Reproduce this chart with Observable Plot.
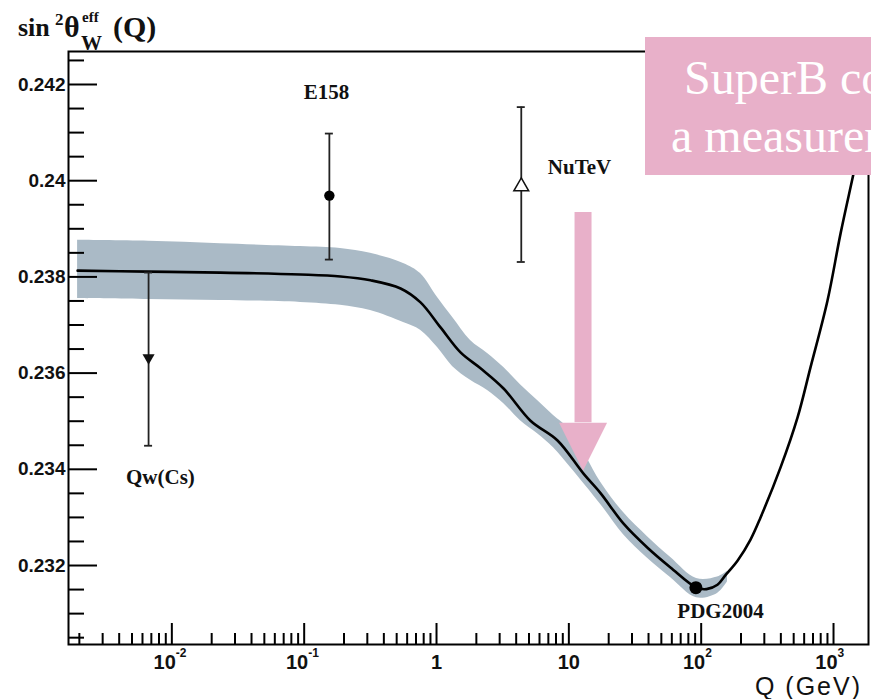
<!DOCTYPE html>
<html><head><meta charset="utf-8">
<script src="https://cdn.jsdelivr.net/npm/d3@7"></script>
<script src="https://cdn.jsdelivr.net/npm/@observablehq/plot@0.6"></script>
<style>
html,body{margin:0;padding:0;background:#fff;overflow:hidden;}
#wrap{position:relative;width:871px;height:699px;overflow:hidden;}
#chart{position:absolute;left:0;top:0;}
#overlay{position:absolute;left:0;top:0;pointer-events:none;}
</style></head><body>
<div id="wrap"><div id="chart"></div>
<svg id="overlay" width="871" height="699" xmlns="http://www.w3.org/2000/svg">
  <g font-family="Liberation Serif, Times New Roman, serif" font-weight="bold" fill="#111">
    <text x="18" y="36" font-size="26">sin</text>
    <text x="55" y="25" font-size="17">2</text>
    <text x="64" y="37" font-size="30">θ</text>
    <text x="82" y="22" font-size="15">eff</text>
    <text x="81" y="50" font-size="21">W</text>
    <text x="113" y="37" font-size="30">(Q)</text>
  </g>
  <rect x="645" y="37" width="240" height="138" fill="#e8b0c9"></rect>
  <g font-family="Liberation Serif, Times New Roman, serif" fill="#ffffff" font-size="48">
    <text x="684" y="94">SuperB co</text>
    <text x="671" y="152">a measurem</text>
  </g>
  <text x="862" y="695" text-anchor="end" font-family="Liberation Sans, Arial, sans-serif" font-size="25" letter-spacing="2" fill="#111">Q (GeV)</text>
</svg>
</div>
<script>
// ---- data ----
const curveQ = [0.00194, 0.00667, 0.0233, 0.0938, 0.188, 0.317, 0.535, 0.757, 1.072, 1.518, 2.15, 3.21, 5.13, 8.21, 12.9, 17.4, 25.9, 39.3, 58.6, 92.2, 109.7, 132.8, 152.7, 188.2, 236, 281, 398, 535, 670, 901, 1130, 1417, 1840];
const curveS = [0.23813, 0.23811, 0.23809, 0.23805, 0.23801, 0.23793, 0.23776, 0.23747, 0.23695, 0.23643, 0.23610, 0.23568, 0.23501, 0.23460, 0.23391, 0.23350, 0.23287, 0.23237, 0.23196, 0.23154, 0.23151, 0.23160, 0.23180, 0.23210, 0.23254, 0.23300, 0.23404, 0.23508, 0.23612, 0.23751, 0.23890, 0.24015, 0.24160];

const bandQ  = [0.00194, 0.00667, 0.0233, 0.0938, 0.188, 0.317, 0.563, 0.757, 1.018, 1.321, 1.807, 2.43, 3.21, 4.31, 5.80, 7.66, 10.3, 17.4, 25.9, 39.3, 58.6, 92.2, 132.8, 158];
const bandLo = [0.23755, 0.23753, 0.23751, 0.23747, 0.23741, 0.23730, 0.23705, 0.23689, 0.23653, 0.23614, 0.23585, 0.23564, 0.23537, 0.23501, 0.23474, 0.23445, 0.23404, 0.23327, 0.23264, 0.23215, 0.23175, 0.23133, 0.23142, 0.23166];
const bandHi = [0.23876, 0.23874, 0.23869, 0.23863, 0.23859, 0.23849, 0.23828, 0.23807, 0.23757, 0.23716, 0.23668, 0.23641, 0.23612, 0.23576, 0.23543, 0.23512, 0.23481, 0.23373, 0.23310, 0.23260, 0.23217, 0.23173, 0.23176, 0.23188];

const expNames = ["Qw(Cs)", "E158", "NuTeV"];
const expQ  = [0.00667, 0.155, 4.37];
const expS  = [0.23632, 0.23969, 0.23988];
const expLo = [0.23449, 0.23836, 0.23831];
const expHi = [0.23809, 0.24098, 0.24153];

const pdgName = "PDG2004";
const pdgQ = 91.19;
const pdgS = 0.23154;

const labelText = ["Qw(Cs)", "E158", "NuTeV", "PDG2004"];
const labelQ = [0.0082, 0.1475, 12.04, 140];
const labelS = [0.23383, 0.24183, 0.24027, 0.23104];

const arrowQ = 12.8;
const arrowTopS = 0.23934;
const arrowBaseS = 0.23497;

const yMajor = [0.232, 0.234, 0.236, 0.238, 0.240, 0.242];
const yLabels = ["0.232", "0.234", "0.236", "0.238", "0.24", "0.242"];
const yMinor = [0.2305, 0.231, 0.2315, 0.2325, 0.233, 0.2335, 0.2345, 0.235, 0.2355, 0.2365, 0.237, 0.2375, 0.2385, 0.239, 0.2395, 0.2405, 0.241, 0.2415, 0.2425];
const xMajor = [0.01, 0.1, 1, 10, 100, 1000];
const xBase = ["10", "10", "1", "10", "10", "10"];
const xExp = ["-2", "-1", "", "", "2", "3"];
const xMinorMult = [2, 3, 4, 5, 6, 7, 8, 9];
const xDecades = [0.001, 0.01, 0.1, 1, 10, 100];

const xDomain = [0.001656, 1838];
const yDomain = [0.230358, 0.242686];

// ---- layout ----
const W = 871, H = 699, mL = 68, mR = 3, mT = 51, mB = 55;
const pink = "#e8b0c9";
const xs = Plot.scale({x: {type: "log", domain: xDomain, range: [mL, W - mR]}});
const ys = Plot.scale({y: {type: "linear", domain: yDomain, range: [H - mB, mT]}});
const xOff = (q, d) => xs.invert(xs.apply(q) + d);
const yUp = (s, d) => ys.invert(ys.apply(s) - d);

const curve = curveQ.map((q, i) => ({q, s: curveS[i]}));
const band = bandQ.map((q, i) => ({q, lo: bandLo[i], hi: bandHi[i]}));
const exps = expNames.map((n, i) => ({n, q: expQ[i], s: expS[i], lo: expLo[i], hi: expHi[i]}));
const caps = exps.flatMap(e => [{q: e.q, s: e.lo}, {q: e.q, s: e.hi}]);
const labels = labelText.map((t, i) => ({t, q: labelQ[i], s: labelS[i]}));
const xMinor = xDecades.flatMap(d => xMinorMult.map(m => m * d)).filter(v => v > xDomain[0] && v < xDomain[1]);
const xTicks = xMajor.map((v, i) => ({v, b: xBase[i], e: xExp[i]}));
const arrow = [{q: arrowQ, top: arrowTopS, base: arrowBaseS}];
const headSymbol = {draw(ctx) { ctx.moveTo(-24, 0); ctx.lineTo(24, 0); ctx.lineTo(0, 48); ctx.closePath(); }};

const sans = "Liberation Sans, Arial, sans-serif";
const serif = "Liberation Serif, Times New Roman, serif";

const chart = Plot.plot({
  width: W, height: H,
  marginLeft: mL, marginRight: mR, marginTop: mT, marginBottom: mB,
  x: {type: "log", domain: xDomain, axis: null},
  y: {domain: yDomain, axis: null},
  style: {background: "transparent"},
  marks: [
    Plot.areaY(band, {x: "q", y1: "lo", y2: "hi", fill: "#aabac6", curve: "catmull-rom"}),
    Plot.ruleX(arrow, {x: "q", y1: "top", y2: "base", stroke: pink, strokeWidth: 17}),
    Plot.dot(arrow, {x: "q", y: "base", symbol: headSymbol, r: 5, fill: pink, stroke: "none"}),
    Plot.line(curve, {x: "q", y: "s", stroke: "#000", strokeWidth: 2.6, curve: "catmull-rom", clip: true}),
    Plot.ruleX(exps, {x: "q", y1: "lo", y2: "hi", stroke: "#222", strokeWidth: 1.8}),
    Plot.ruleY(caps, {y: "s", x1: d => xOff(d.q, -4), x2: d => xOff(d.q, 4), stroke: "#222", strokeWidth: 1.8}),
    Plot.dot([exps[0]], {x: "q", y: "s", symbol: "triangle", rotate: 180, r: 4.5, fill: "#111"}),
    Plot.dot([exps[1]], {x: "q", y: "s", symbol: "circle", r: 5.2, fill: "#000"}),
    Plot.dot([exps[2]], {x: "q", y: "s", symbol: "triangle", r: 5.5, fill: "#fff", stroke: "#111", strokeWidth: 1.5}),
    Plot.dot([{q: pdgQ, s: pdgS}], {x: "q", y: "s", r: 6.5, fill: "#000"}),
    Plot.text(labels, {x: "q", y: "s", text: "t", fontFamily: serif, fontWeight: "bold", fontSize: 21, fill: "#111", ariaLabel: "exp-labels"}),
    Plot.frame({stroke: "#000", strokeWidth: 2}),
    Plot.ruleY(yMajor, {y: d => d, x1: xDomain[0], x2: xOff(xDomain[0], 29), stroke: "#000", strokeWidth: 2}),
    Plot.ruleY(yMinor, {y: d => d, x1: xDomain[0], x2: xOff(xDomain[0], 16), stroke: "#000", strokeWidth: 2}),
    Plot.ruleX(xMajor, {x: d => d, y1: yDomain[0], y2: yUp(yDomain[0], 21), stroke: "#000", strokeWidth: 2}),
    Plot.ruleX(xMinor, {x: d => d, y1: yDomain[0], y2: yUp(yDomain[0], 11), stroke: "#000", strokeWidth: 2}),
    Plot.text(yMajor, {x: xDomain[0], y: d => d, text: (d, i) => yLabels[i], textAnchor: "end", dx: -3, fontFamily: sans, fontWeight: "bold", fontSize: 19, fill: "#111"}),
    Plot.text(xTicks.filter(d => d.e === ""), {x: "v", y: yDomain[0], text: "b", dy: 18, fontFamily: sans, fontWeight: "bold", fontSize: 20, fill: "#111"}),
    Plot.text(xTicks.filter(d => d.e !== ""), {x: "v", y: yDomain[0], text: "b", dy: 18, dx: 4, textAnchor: "end", fontFamily: sans, fontWeight: "bold", fontSize: 20, fill: "#111"}),
    Plot.text(xTicks.filter(d => d.e !== ""), {x: "v", y: yDomain[0], text: "e", dy: 9, dx: 4, textAnchor: "start", fontFamily: sans, fontWeight: "bold", fontSize: 12, fill: "#111"})
  ]
});
document.getElementById("chart").appendChild(chart);

// horizontally widen the serif data labels as in the reference
chart.querySelectorAll('g[aria-label="exp-labels"] text').forEach(t => {
  const tr = t.getAttribute("transform") || "";
  if (t.hasAttribute("x")) {
    const x = +t.getAttribute("x"), y = +t.getAttribute("y") || 0;
    t.setAttribute("transform", `${tr} translate(${x},${y}) scale(1.4,1) translate(${-x},${-y})`);
  } else {
    t.setAttribute("transform", `${tr} scale(1.4,1)`);
  }
});
</script>
</body></html>
